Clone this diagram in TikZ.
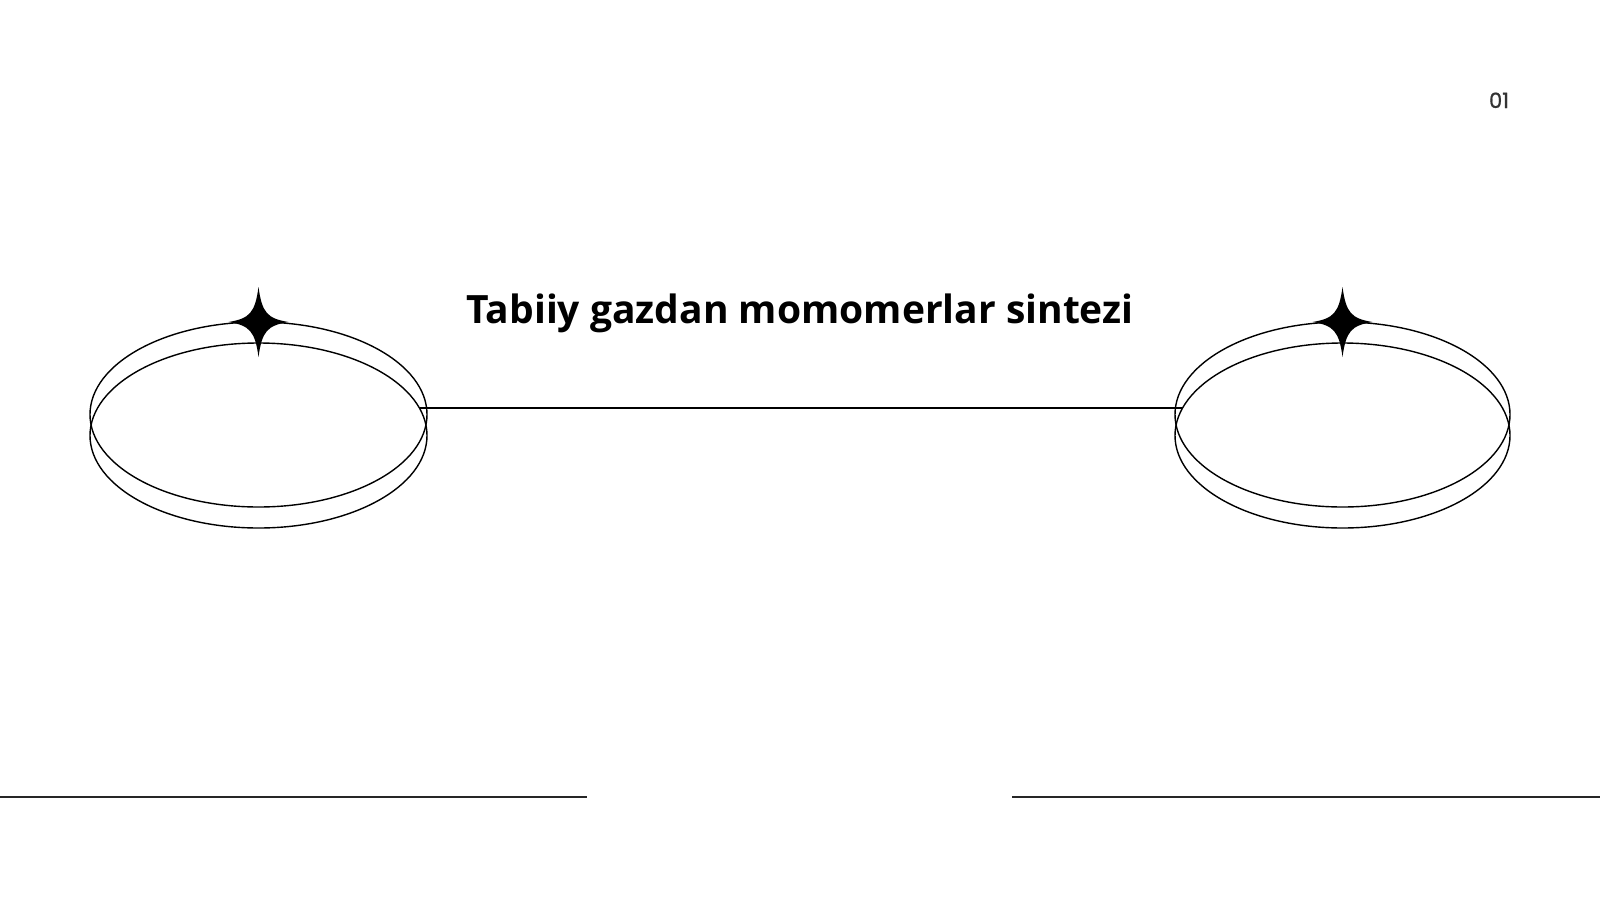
\documentclass[tikz,border=0pt]{standalone}
\usepackage{fontspec}
\usetikzlibrary{shapes.geometric}
\newfontfamily\titlefont{Open Sans}
\newfontfamily\numfont{Poppins}[FakeBold=0.8]
\begin{document}
\begin{tikzpicture}[x=1pt,y=-1pt,
  ring/.style={draw=black, line width=1.4pt, ellipse, inner sep=0pt, minimum width=337pt, minimum height=185pt},
  rule/.style={draw=black!85, line width=2pt},
  link/.style={draw=black, line width=1.6pt},
]
\useasboundingbox[fill=white] (0,0) rectangle (1600,900);
\tikzset{starshape/.pic={
  \fill[black] (0,-35) .. controls (3.5,-9) and (9,-3.5) .. (30,0)
    .. controls (9,3.5) and (3.5,9) .. (0,35)
    .. controls (-3.5,9) and (-9,3.5) .. (-30,0)
    .. controls (-9,-3.5) and (-3.5,-9) .. (0,-35) -- cycle;
}}
% left group
\node[ring] (L1) at (258.5,414.5) {};
\node[ring] (L2) at (258.5,435.5) {};
\pic at (258.5,322) {starshape};
% right group
\node[ring, minimum width=335pt] (R1) at (1342.5,414.5) {};
\node[ring, minimum width=335pt] (R2) at (1342.5,435.5) {};
\pic at (1342.5,322) {starshape};
% connector
\coordinate (la) at (419,408);
\coordinate (ra) at (1182,408);
\draw[link] (la) -- (ra);
% title
\node[anchor=base, inner sep=0pt, font=\titlefont\bfseries\fontsize{39}{46}\selectfont] (title) at (800,323) {Tabiiy gazdan momomerlar sintezi};
% page number
\node[anchor=base, inner sep=0pt, text=black!80, font=\numfont\fontsize{21}{24}\selectfont] (num) at (1499,108) {01};
% bottom rules
\coordinate (b1) at (0,797);
\coordinate (b2) at (587,797);
\coordinate (b3) at (1012,797);
\coordinate (b4) at (1600,797);
\draw[rule] (b1) -- (b2);
\draw[rule] (b3) -- (b4);
\end{tikzpicture}
\end{document}
